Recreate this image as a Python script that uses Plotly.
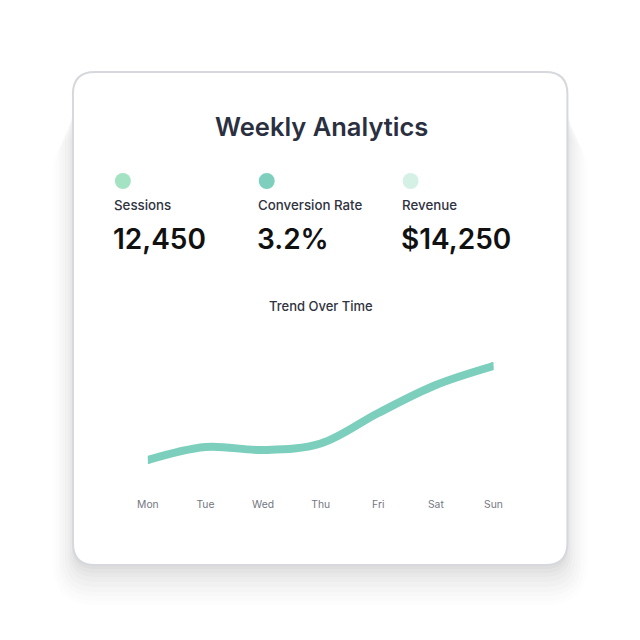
import plotly.graph_objects as go

days = ["Mon", "Tue", "Wed", "Thu", "Fri", "Sat", "Sun"]
trend = [1500, 1630, 1600, 1665, 1970, 2250, 2440]

kpi_labels = ["Sessions", "Conversion Rate", "Revenue"]
kpi_values = ["12,450", "3.2%", "$14,250"]
kpi_colors = ["#a3e3c4", "#7fcfbf", "#d5f1e6"]

W = H = 624
SX, OX = 0.969, 18.0   # observed horizontal placement of the page in the photo
OY = 8.0               # body margin
LINE = "#7dcfbd"


def px(x):
    return ((x - OX) / SX) / W


def py(y):
    return 1 - (y - OY) / H


def rrect(x0, y0, x1, y1, r):
    X0, X1 = px(x0), px(x1)
    Y0, Y1 = py(y0), py(y1)
    rx, ry = (r / SX) / W, r / H
    return (f"M{X0+rx},{Y0} L{X1-rx},{Y0} Q{X1},{Y0} {X1},{Y0-ry} "
            f"L{X1},{Y1+ry} Q{X1},{Y1} {X1-rx},{Y1} L{X0+rx},{Y1} "
            f"Q{X0},{Y1} {X0},{Y1+ry} L{X0},{Y0-ry} Q{X0},{Y0} {X0+rx},{Y0} Z")


fig = go.Figure()
xs = list(range(len(days)))
fig.add_trace(go.Scatter(
    x=xs, y=trend, mode="lines",
    line=dict(color=LINE, width=8, shape="spline", smoothing=1.0),
    hoverinfo="skip", showlegend=False,
))
fig.add_trace(go.Scatter(
    x=[xs[0], xs[-1]], y=[trend[0], trend[-1]], mode="markers",
    marker=dict(color=LINE, size=8, line=dict(width=0)),
    hoverinfo="skip", showlegend=False,
))

shapes = []
# soft shadow, mostly below the card
for grow, dy, op in [(20, 40, 0.010), (17, 36, 0.012), (14, 31, 0.014), (11, 27, 0.016),
                     (8, 22, 0.018), (5, 17, 0.020), (3, 12, 0.022), (1, 8, 0.024),
                     (0, 4, 0.026)]:
    shapes.append(dict(type="path", xref="paper", yref="paper",
                       path=rrect(72 - grow, 92 + dy, 567 + grow, 565 + dy, 22 + grow),
                       fillcolor=f"rgba(50,50,60,{op})", line=dict(width=0), layer="below"))
shapes.append(dict(type="path", xref="paper", yref="paper",
                   path=rrect(72, 72, 567, 565, 22),
                   fillcolor="white", line=dict(color="#d6d8dd", width=2), layer="below"))

kx = [114, 258, 402]
for i in range(3):
    shapes.append(dict(type="circle", xref="paper", yref="paper",
                       x0=px(kx[i]), x1=px(kx[i] + 16), y0=py(189), y1=py(173),
                       fillcolor=kpi_colors[i], line=dict(width=0), layer="above"))

ann = [dict(text="Weekly Analytics", x=px(321), y=py(126), xref="paper", yref="paper",
            showarrow=False, xanchor="center", yanchor="middle",
            font=dict(family="Inter", size=25.5, color="#2b3040", weight=600)),
       dict(text="Trend Over Time", x=px(320.5), y=py(306), xref="paper", yref="paper",
            showarrow=False, xanchor="center", yanchor="middle",
            font=dict(family="Inter", size=13, color="#2f3340", weight=500))]
for i in range(3):
    ann.append(dict(text=kpi_labels[i], x=px(kx[i] - 3), y=py(205), xref="paper", yref="paper",
                    showarrow=False, xanchor="left", yanchor="middle",
                    font=dict(family="Inter", size=13.3, color="#2f3340", weight=500)))
    ann.append(dict(text=kpi_values[i], x=px(kx[i] - 4), y=py(239), xref="paper", yref="paper",
                    showarrow=False, xanchor="left", yanchor="middle",
                    font=dict(family="Inter", size=28, color="#111111", weight=600)))

fig.update_layout(
    width=W, height=H, margin=dict(l=0, r=0, t=0, b=0),
    paper_bgcolor="white", plot_bgcolor="rgba(0,0,0,0)",
    shapes=shapes, annotations=ann,
    xaxis=dict(domain=[px(147), px(493)], range=[0, 6], tickvals=xs, ticktext=days,
               showgrid=False, zeroline=False, showline=False, ticks="",
               tickfont=dict(family="Inter", size=10.3, color="#74777f")),
    yaxis=dict(domain=[py(497), py(340)], range=[1130, 2700], visible=False),
)
fig.write_html("out.html")
